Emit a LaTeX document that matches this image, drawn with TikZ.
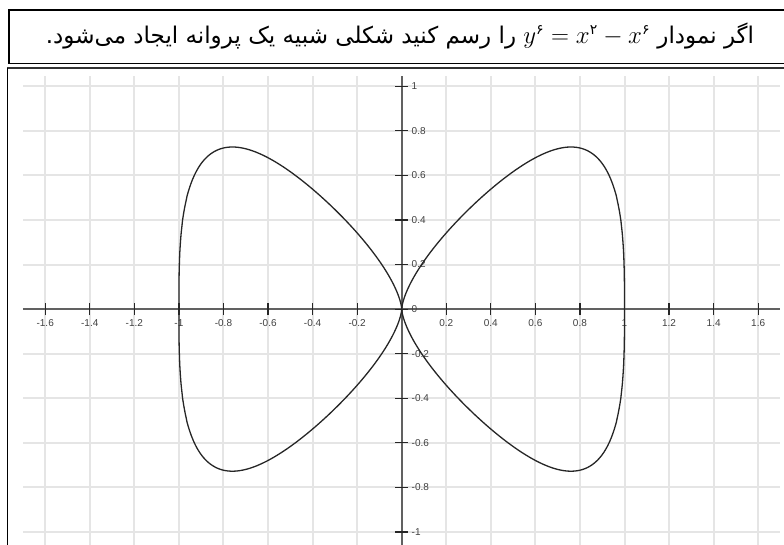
\documentclass[tikz,border=0pt]{standalone}
\usepackage{fontspec}
\setmainfont{Liberation Sans}
\newfontfamily\persianfont[Script=Arabic]{DejaVu Sans}
\TeXXeTstate=1
\usetikzlibrary{math}
\newcommand\pdig[1]{\hbox{\persianfont\fontsize{14}{14}\selectfont #1}}

\tikzset{
gridline/.style={draw=black!10, line width=2pt},
axisline/.style={draw=black!62, line width=2pt},
tickmark/.style={draw=black!85, line width=1.2pt},
ticklabel/.style={font=\fontsize{10}{10}\selectfont, text=black!75, inner sep=0pt},
butterfly/.style={draw=black!85, line width=1.3pt},
}

\begin{document}
\begin{tikzpicture}[x=1pt,y=-1pt]
\tikzmath{
\ox=401.7;
\oy=309.1;
\u=222.8;
}
\useasboundingbox (0,0) rectangle (784,545);
\clip (0,0) rectangle (784,545);

%The title box:
\draw[line width=1.4pt] (9,10) rectangle (800,63.5);
\node[font=\persianfont\fontsize{23}{28}\selectfont] (title) at (400,36)
{\beginR اگر نمودار \beginL$y^{\pdig{۶}}=x^{\pdig{۲}}-x^{\pdig{۶}}$\endL{} را رسم کنید شکلی شبیه یک پروانه ایجاد می‌شود.\endR};

%The graph frame:
\draw[black!80, line width=2pt] (7.3,68.3) -- (800,68.3);
\draw[line width=1.4pt] (7.3,68.3) -- (7.3,560);

\begin{scope}[shift={(\ox,\oy)}, x=\u pt, y=\u pt]
%The grid:
\foreach \i in {-8,...,8}
  \draw[gridline] (\i/5,-1.2) -- (\i/5,1.046);
\foreach \j in {-5,...,5}
  \draw[gridline] (-1.7,\j/5) -- (1.7,\j/5);

%The axes:
\draw[axisline] (-1.7,0) -- (1.7,0);
\draw[axisline] (0,-1.2) -- (0,1.046);
\foreach \v [count=\n] in {-1.6,-1.4,-1.2,-1,-0.8,-0.6,-0.4,-0.2,0.2,0.4,0.6,0.8,1,1.2,1.4,1.6}{
  \draw[tickmark] (\v,-0.027) -- (\v,0.027);
  \node[ticklabel] (xlab\n) at (\v,-0.064) {\v};
}
\foreach \v [count=\n] in {-1,-0.8,-0.6,-0.4,-0.2,0,0.2,0.4,0.6,0.8,1}{
  \draw[tickmark] (-0.03,\v) -- (0.03,\v);
  \node[ticklabel, anchor=west] (ylab\n) at (0.044,\v) {\v};
}

%The curve, one quarter at a time:
\foreach \sx/\sy in {1/1,-1/1,1/-1,-1/-1}
  \draw[butterfly, xscale=\sx, yscale=\sy] plot[domain=0:89.5, samples=180, variable=\t]
    ({sin(\t)^3},{sin(\t)^2*(1-sin(\t)^12)^(1/3)}) -- (1,0);
\end{scope}

\end{tikzpicture}
\end{document}
